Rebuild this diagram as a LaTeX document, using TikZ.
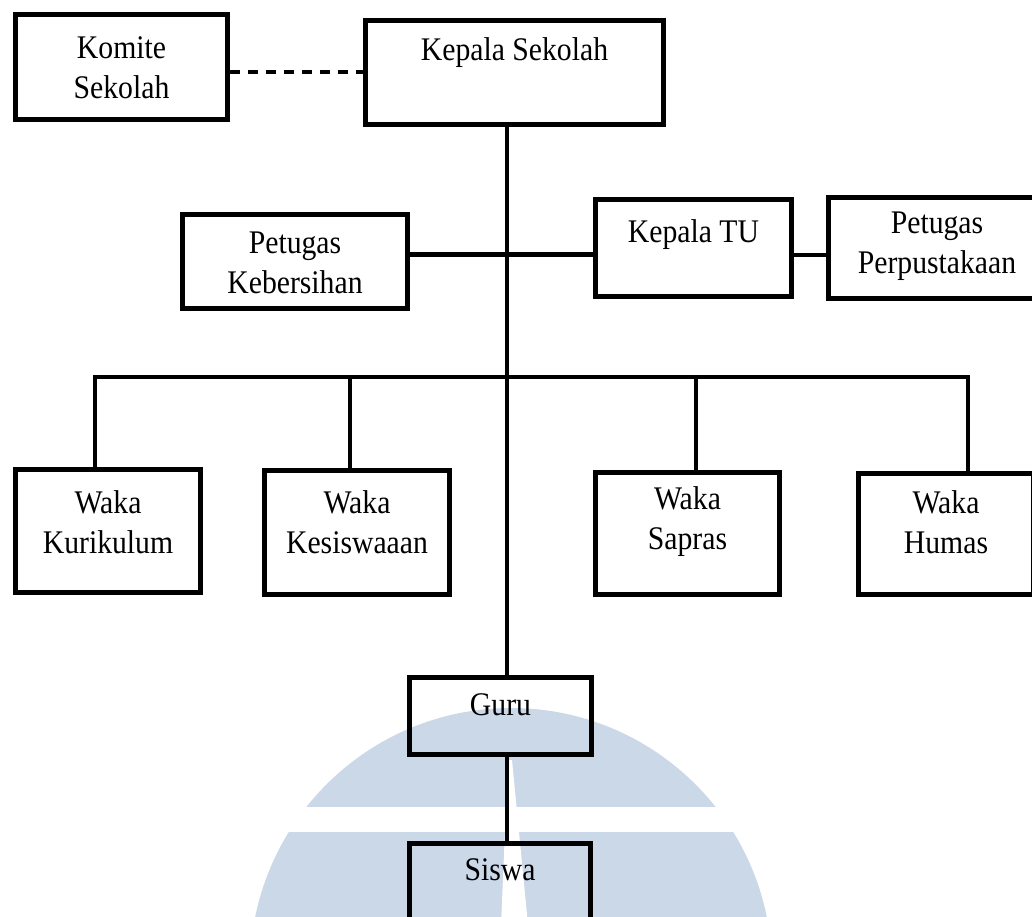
\documentclass[tikz,border=0pt]{standalone}
\usepackage{fontspec}
\setmainfont{Liberation Serif}[FakeStretch=0.9]

\definecolor{wmblue}{RGB}{203,216,232}
\tikzstyle{post}=[draw,line width=5pt,rectangle,inner sep=0pt]
\tikzstyle{edge} = [draw,line width=4.5pt,-]
\tikzstyle{assoc} = [draw,line width=3.5pt,dash pattern=on 10pt off 8pt]
\tikzstyle{posttext} = [font=\fontsize{33}{40}\selectfont,align=center,inner sep=0pt]
\newcommand{\ocunit}{1pt}

\begin{document}
\begin{tikzpicture}[x=\ocunit, y=-\ocunit]
    \useasboundingbox (0,0) rectangle (1032,917);
    \clip (0,0) rectangle (1032,917);
    % Watermark behind the chart
    \begin{scope}
        \clip (511,969) circle (261);
        \fill[wmblue] (0,700) rectangle (1032,807);
        \fill[wmblue] (0,832) rectangle (1032,930);
    \end{scope}
    \fill[white] (508,760) -- (512,760) -- (528,925) -- (501,925) -- cycle;
    % First we draw the boxes
    \foreach \name/\cx/\cy/\w/\h in {komite/121.5/67/212/105, kepsek/514.5/72.5/298/104,
        kebersihan/295/261.5/225/94, katu/693.5/248/196/97, perpus/937/248/217/101,
        kurikulum/108/531/185/123, kesiswaan/357/532.5/185/124, sapras/687.5/533.5/184/122,
        humas/946/534/175/121, guru/500.5/716/182/77, siswa/500/883.5/181/80}
        \node[post, minimum width=\w pt, minimum height=\h pt] (\name) at (\cx,\cy) {};
    % Texts of the boxes
    \foreach \name/\ty/\txt in {komite/67.5/{Komite\\Sekolah}, kepsek/53/{Kepala Sekolah},
        kebersihan/262.5/{Petugas\\Kebersihan}, katu/235/{Kepala TU},
        perpus/246/{Petugas\\Perpustakaan}, kurikulum/522.5/{Waka\\Kurikulum},
        kesiswaan/522.5/{Waka\\Kesiswaaan}, sapras/522/{Waka\\Sapras},
        humas/522/{Waka\\Humas}, guru/705/{Guru}, siswa/870/{Siswa}}
        \node[posttext] (\name-t) at (\name.center |- 0,\ty) {\txt};
    % Connect the boxes
    \coordinate (bus) at (507,377);
    \path[edge] ([xshift=-7.5pt]kepsek.south) -- ([xshift=6.5pt]guru.north);
    \path[edge] ([xshift=6.5pt]guru.south) -- ([xshift=7pt]siswa.north);
    \path[edge] ([yshift=7pt]kebersihan.east) -- ([yshift=7pt]kebersihan.east -| katu.west);
    \path[edge] ([yshift=-7pt]katu.east) -- ([yshift=-7pt]katu.east -| perpus.west);
    \foreach \dest/\dx in {kurikulum/-13, kesiswaan/-7, sapras/8.5, humas/22}
        \path[edge] ([xshift=\dx pt]\dest.north) |- (bus);
    \path[assoc] ([yshift=-5pt]komite.east) -- ([yshift=-5pt]komite.east -| kepsek.west);
\end{tikzpicture}
\end{document}
